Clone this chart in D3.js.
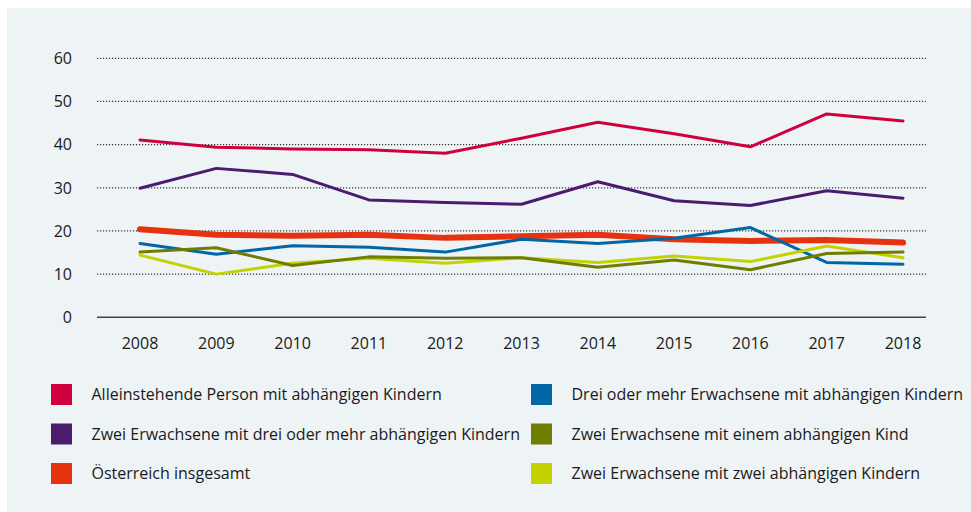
<!DOCTYPE html>
<html><head><meta charset="utf-8">
<script src="https://cdn.jsdelivr.net/npm/d3@7"></script>
<style>
body{margin:0;background:#fff;}
svg{display:block;font-family:"Open Sans",Lato,sans-serif;}
</style></head>
<body><svg id="c" width="971" height="512"></svg>
<script>
const years = [2008,2009,2010,2011,2012,2013,2014,2015,2016,2017,2018];
const yTicks = [0,10,20,30,40,50,60];
const seriesNames = [
  "Alleinstehende Person mit abhängigen Kindern",
  "Zwei Erwachsene mit drei oder mehr abhängigen Kindern",
  "Österreich insgesamt",
  "Drei oder mehr Erwachsene mit abhängigen Kindern",
  "Zwei Erwachsene mit einem abhängigen Kind",
  "Zwei Erwachsene mit zwei abhängigen Kindern"
];
const alleinstehend = [41.1,39.4,39.0,38.8,38.0,41.5,45.2,42.5,39.5,47.1,45.5];
const zweiDreiMehr  = [29.9,34.5,33.1,27.2,26.6,26.2,31.4,27.0,25.9,29.3,27.6];
const oesterreich   = [20.4,19.1,18.9,19.1,18.4,18.8,19.1,18.1,17.7,17.9,17.3];
const dreiMehrErw   = [17.1,14.6,16.6,16.2,15.1,18.1,17.1,18.3,20.8,12.7,12.3];
const zweiEinKind   = [15.1,16.1,12.0,14.0,13.7,13.8,11.6,13.3,11.0,14.8,15.1];
const zweiZweiKind  = [14.4,10.0,12.5,13.7,12.5,13.8,12.7,14.2,12.9,16.5,13.8];
const colors = ["#d0003f","#4b1b6e","#e5330f","#0066a6","#6f7d00","#c3d200"];

const svg = d3.select("#c");
svg.append("rect").attr("x",7).attr("y",8).attr("width",964).attr("height",504).attr("fill","#eef3f6");

const x = d3.scaleLinear().domain([2008,2018]).range([140,903]);
const y = d3.scaleLinear().domain([0,60]).range([317.3,58.3]);
const gx0 = 97, gx1 = 926;

svg.append("g").selectAll("line").data(yTicks.filter(t=>t>0)).join("line")
  .attr("x1",gx0).attr("x2",gx1).attr("y1",d=>y(d)).attr("y2",d=>y(d))
  .attr("stroke","#333").attr("stroke-width",1.2).attr("stroke-dasharray","1.2,1.8");
svg.append("g").selectAll("text").data(yTicks).join("text")
  .attr("x",72).attr("y",d=>y(d)).attr("dy","0.36em").attr("text-anchor","end")
  .attr("font-size",16).attr("fill","#1a1a1a").text(d=>d);
svg.append("line").attr("x1",gx0).attr("x2",gx1).attr("y1",y(0)).attr("y2",y(0))
  .attr("stroke","#444").attr("stroke-width",1.6);
svg.append("g").selectAll("text").data(years).join("text")
  .attr("x",d=>x(d)).attr("y",343).attr("dy","0.36em").attr("text-anchor","middle")
  .attr("font-size",16).attr("fill","#1a1a1a").text(d=>d);

const data = [alleinstehend,zweiDreiMehr,oesterreich,dreiMehrErw,zweiEinKind,zweiZweiKind];
const widths = [3,3,6,3,3,3];
const order = [0,1,2,3,5,4];
const line = d3.line().x((d,i)=>x(years[i])).y(d=>y(d));
order.forEach(k=>{
  svg.append("path").datum(data[k]).attr("d",line).attr("fill","none")
    .attr("stroke",colors[k]).attr("stroke-width",widths[k])
    .attr("stroke-linejoin","round").attr("stroke-linecap","round");
});

const lg = svg.append("g");
seriesNames.forEach((n,i)=>{
  const col = i<3?0:1, row = i%3;
  const sx = col===0?51:531, sy = 384 + row*39.5;
  lg.append("rect").attr("x",sx).attr("y",sy).attr("width",21).attr("height",21).attr("fill",colors[i]);
  lg.append("text").attr("x",sx+40.5).attr("y",sy+10.5).attr("dy","0.36em")
    .attr("font-size",16).attr("fill","#1a1a1a").text(n);
});
</script></body></html>
